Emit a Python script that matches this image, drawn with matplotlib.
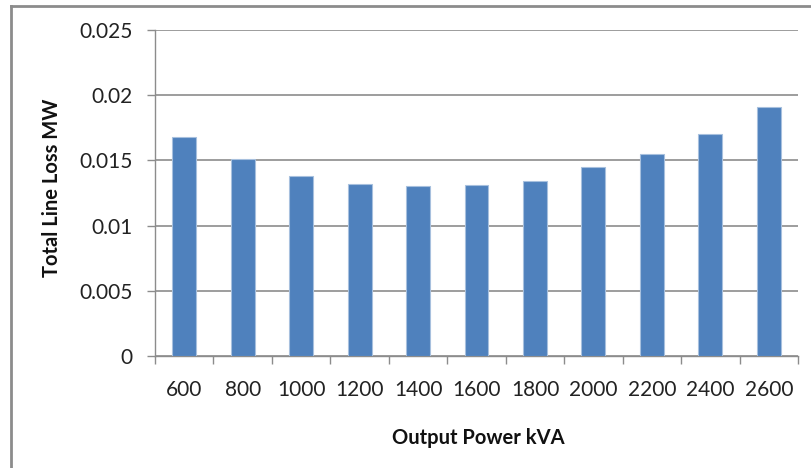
import matplotlib
matplotlib.use("Agg")
import matplotlib.pyplot as plt
from matplotlib.lines import Line2D

categories = ["600", "800", "1000", "1200", "1400", "1600", "1800", "2000", "2200", "2400", "2600"]
line_loss = [0.0168, 0.0151, 0.0138, 0.0132, 0.0130, 0.0131, 0.0134, 0.0145, 0.0155, 0.0170, 0.0191]
y_ticks = [0, 0.005, 0.01, 0.015, 0.02, 0.025]
y_tick_labels = ["0", "0.005", "0.01", "0.015", "0.02", "0.025"]

plt.rcParams['font.family'] = ['Lato', 'DejaVu Sans']

W, H = 811, 468
fig = plt.figure(figsize=(W / 100, H / 100), dpi=100)
left, right, top, bottom = 155, 798, 30, 356
ax = fig.add_axes([left / W, 1 - bottom / H, (right - left) / W, (bottom - top) / H])

x = list(range(len(categories)))
ax.bar(x, line_loss, width=0.41, color="#4F81BD", edgecolor="#A7C0DE", linewidth=0.8, zorder=3)

ax.set_xlim(-0.5, len(categories) - 0.5)
ax.set_ylim(0, 0.025)
ax.set_yticks(y_ticks)
ax.set_yticklabels(y_tick_labels, fontsize=15, color="#222222")
ax.yaxis.grid(True, color="#8C8C8C", linewidth=1.2, zorder=0)
ax.set_axisbelow(True)

# x ticks at category boundaries, labels centered
ax.set_xticks([i - 0.5 for i in range(len(categories) + 1)])
ax.set_xticklabels([])
ax.set_xticks(x, minor=True)
ax.set_xticklabels(categories, minor=True, fontsize=15, color="#222222")
ax.tick_params(axis="x", which="minor", length=0, pad=17)
ax.tick_params(axis="x", which="major", length=6, color="#8C8C8C", width=1)
ax.tick_params(axis="y", length=6, color="#8C8C8C", width=1, pad=10)

for s in ["top", "right"]:
    ax.spines[s].set_visible(False)
for s in ["left", "bottom"]:
    ax.spines[s].set_color("#8C8C8C")
    ax.spines[s].set_linewidth(1)

fig.text(52 / W, 1 - 188 / H, "Total Line Loss MW", rotation=90, ha="center", va="center",
         fontsize=14.5, fontweight="bold", color="#111111")
fig.text(478 / W, 1 - 438 / H, "Output Power kVA", ha="center", va="center",
         fontsize=14.5, fontweight="bold", color="#111111")

# outer chart border
fig.add_artist(Line2D([11 / W, 11 / W], [0, 1 - 6 / H], transform=fig.transFigure, color="#8C8C8C", linewidth=2))
fig.add_artist(Line2D([11 / W, 1], [1 - 6 / H, 1 - 6 / H], transform=fig.transFigure, color="#8C8C8C", linewidth=2))

fig.savefig("out.png", dpi=100)
